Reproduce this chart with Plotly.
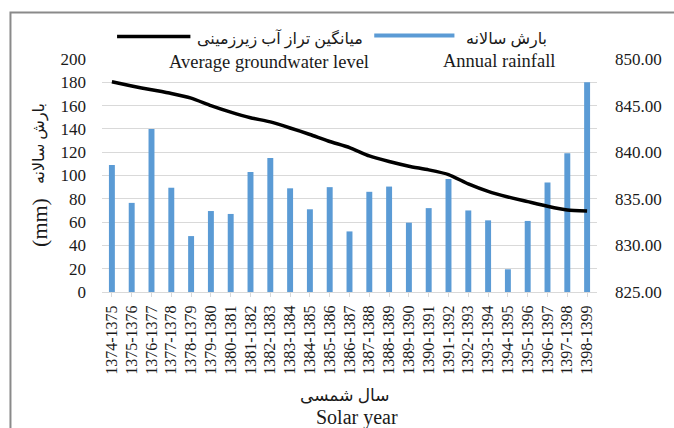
import plotly.graph_objects as go

# Solar (Persian calendar) water years
years = [
    "1374-1375", "1375-1376", "1376-1377", "1377-1378", "1378-1379",
    "1379-1380", "1380-1381", "1381-1382", "1382-1383", "1383-1384",
    "1384-1385", "1385-1386", "1386-1387", "1387-1388", "1388-1389",
    "1389-1390", "1390-1391", "1391-1392", "1392-1393", "1393-1394",
    "1394-1395", "1395-1396", "1396-1397", "1397-1398", "1398-1399",
]

# Annual rainfall (mm)
rainfall = [109, 76.5, 140, 89.5, 48, 69.5, 67, 103, 115, 89,
            71, 90, 52, 86, 90.5, 59.5, 72, 97, 70, 61.5,
            19.5, 61, 94, 119, 180]

# Average groundwater level (m)
gw_level = [847.55, 847.1, 846.7, 846.3, 845.8, 845.0, 844.3, 843.7, 843.25, 842.6,
            841.9, 841.15, 840.5, 839.6, 839.0, 838.5, 838.1, 837.6, 836.6, 835.8,
            835.2, 834.7, 834.2, 833.8, 833.7]

left_ticks = list(range(0, 201, 20))
right_ticks = [825, 830, 835, 840, 845, 850]

W, H = 674, 428
L, R, T, B = 101.6, 66.2, 58.6, 136
PW, PH = W - L - R, H - T - B

SERIF = "Liberation Serif, Times New Roman, DejaVu Sans, serif"
NUM = "Liberation Serif"
TXT = "#1a1a1a"
BLUE = "#5b9bd5"


def px(x):
    return (x - L) / PW


def py(y):
    return (H - B - y) / PH


fig = go.Figure()
fig.add_trace(go.Bar(x=years, y=rainfall, marker_color=BLUE, marker_line_width=0,
                     name="بارش سالانه"))
fig.add_trace(go.Scatter(x=years, y=gw_level, yaxis="y2", mode="lines",
                         line=dict(color="black", width=3.5, shape="spline", smoothing=0.5),
                         name="میانگین تراز آب زیرزمینی"))

fig.update_layout(
    width=W, height=H, autosize=False,
    margin=dict(l=L, r=R, t=T, b=B, pad=0),
    paper_bgcolor="white", plot_bgcolor="white",
    showlegend=False, bargap=0.7,
    font=dict(family=SERIF, color=TXT),
    xaxis=dict(
        type="category", tickangle=-90, showgrid=False,
        showline=True, linecolor="#d9d9d9", linewidth=1,
        ticks="outside", ticklen=4, tickcolor="#d9d9d9",
        tickfont=dict(family=NUM, size=16, color=TXT),
        ticklabelstandoff=2,
    ),
    yaxis=dict(
        range=[0, 200], tickvals=left_ticks, showgrid=True, gridcolor="#d9d9d9",
        gridwidth=1, zeroline=False, showline=False, ticks="",
        tickfont=dict(family=NUM, size=17, color=TXT), ticklabelstandoff=15,
    ),
    yaxis2=dict(
        range=[825, 850], tickvals=right_ticks, tickformat=".2f", overlaying="y",
        side="right", showgrid=False, zeroline=False, showline=False, ticks="",
        tickfont=dict(family=NUM, size=17, color=TXT), ticklabelstandoff=17,
    ),
)

shapes = [
    # outer frame
    dict(type="rect", xref="paper", yref="paper",
         x0=px(8), x1=px(700), y0=py(460), y1=py(12),
         line=dict(color="#8a8a8a", width=2), fillcolor="rgba(0,0,0,0)", layer="above"),
    # legend line samples
    dict(type="line", xref="paper", yref="paper", x0=px(117), x1=px(192), y0=py(36), y1=py(36),
         line=dict(color="black", width=3.5)),
    dict(type="line", xref="paper", yref="paper", x0=px(380), x1=px(462), y0=py(35), y1=py(35),
         line=dict(color=BLUE, width=4)),
]
fig.update_layout(shapes=shapes)

annotations = [
    dict(text="میانگین تراز آب زیرزمینی", x=px(371), y=py(39), xanchor="right", yanchor="middle",
         font=dict(size=16)),
    dict(text="بارش سالانه", x=px(472), y=py(39), xanchor="left", yanchor="middle",
         font=dict(size=16)),
    dict(text="Average groundwater level", x=px(272.5), y=py(62), xanchor="center",
         yanchor="middle", font=dict(size=18.5)),
    dict(text="Annual rainfall", x=px(508.5), y=py(61), xanchor="center",
         yanchor="middle", font=dict(size=18.5)),
    # left axis title
    dict(text="بارش سالانه", x=px(37), y=py(143), textangle=-90, xanchor="center",
         yanchor="middle", font=dict(size=16)),
    dict(text="(mm)", x=px(37), y=py(222), textangle=-90, xanchor="center",
         yanchor="middle", font=dict(size=22)),
    # bottom axis title
    dict(text="سال شمسی", x=px(350), y=py(396), xanchor="center", yanchor="middle",
         font=dict(size=17)),
    dict(text="Solar year", x=px(362), y=py(418), xanchor="center", yanchor="middle",
         font=dict(size=20)),
]
for a in annotations:
    a.update(xref="paper", yref="paper", showarrow=False)
fig.update_layout(annotations=annotations)

fig.write_html("out.html")
